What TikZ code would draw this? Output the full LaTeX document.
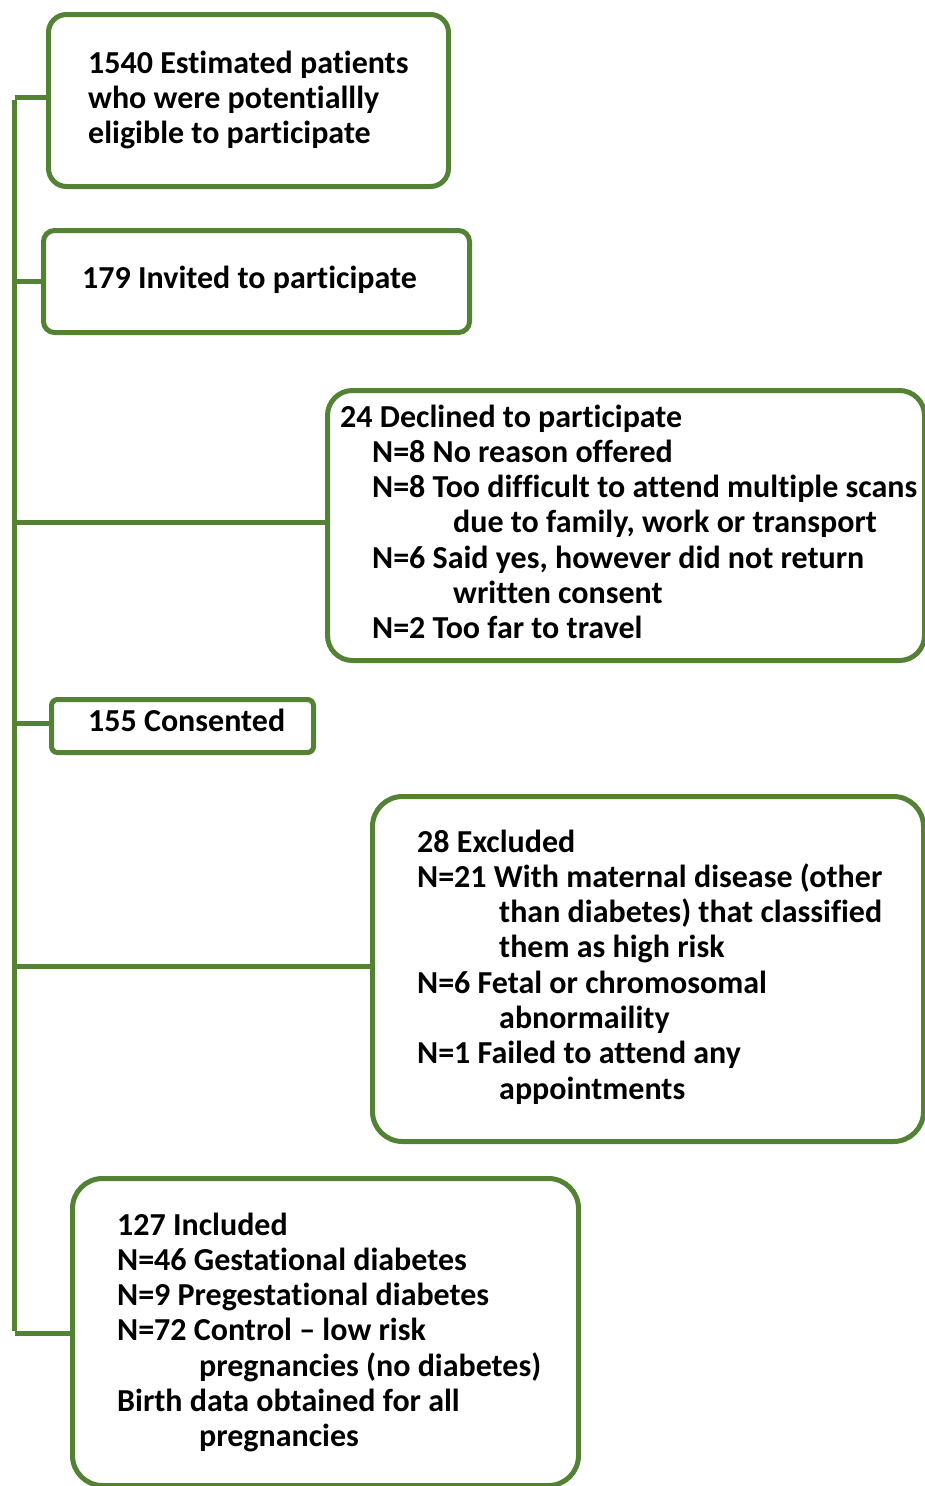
\documentclass[tikz,border=0pt]{standalone}
\usepackage{fontspec}
\setmainfont{Carlito}[Ligatures=NoCommon,Contextuals=NoAlternate]
\definecolor{boxgreen}{HTML}{548235}
\newcommand{\rowtext}[2][0pt]{\hbox{\hskip#1 #2}}
\begin{document}
\begin{tikzpicture}[x=1pt,y=-1pt,
  box/.style={draw=boxgreen, line width=5pt, fill=white, anchor=north west, inner sep=0pt},
  link/.style={draw=boxgreen, line width=5pt},
  label/.style={anchor=base west, inner sep=0pt, font=\fontsize{32}{35.3}\selectfont\bfseries}]
\useasboundingbox[fill=white] (0,0) rectangle (925,1486);

% boxes
\node[box, rounded corners=18pt, minimum width=400pt, minimum height=172pt] (b1) at (46,12) {};
\node[box, rounded corners=11pt, minimum width=426pt, minimum height=102pt] (b2) at (41,228) {};
\node[box, rounded corners=25pt, minimum width=597pt, minimum height=270pt] (b3) at (325,388) {};
\node[box, rounded corners=6pt, minimum width=262pt, minimum height=53pt] (b4) at (49,697) {};
\node[box, rounded corners=30pt, minimum width=551pt, minimum height=345pt] (b5) at (370,794) {};
\node[box, rounded corners=30pt, minimum width=506pt, minimum height=307pt] (b6) at (70,1176) {};

% texts
\node[label] (t1) at (88,73) {\vtop{%
  \rowtext{1540 Estimated patients}
  \rowtext{who were potentiallly}
  \rowtext{eligible to participate}}};
\node[label] (t2) at (82,288) {179 Invited to participate};
\node[label] (t3) at (340,427) {\vtop{%
  \rowtext{24 Declined to participate}
  \rowtext[32pt]{N=8 No reason offered}
  \rowtext[32pt]{N=8 Too difficult to attend multiple scans}
  \rowtext[113pt]{due to family, work or transport}
  \rowtext[32pt]{N=6 Said yes, however did not return}
  \rowtext[113pt]{written consent}
  \rowtext[32pt]{N=2 Too far to travel}}};
\node[label] (t4) at (88,731) {155 Consented};
\node[label] (t5) at (417,852) {\vtop{%
  \rowtext{28 Excluded}
  \rowtext{N=21 With maternal disease (other}
  \rowtext[82pt]{than diabetes) that classified}
  \rowtext[82pt]{them as high risk}
  \rowtext{N=6 Fetal or chromosomal}
  \rowtext[82pt]{abnormaility}
  \rowtext{N=1 Failed to attend any}
  \rowtext[82pt]{appointments}}};
\node[label] (t6) at (117,1235) {\vtop{%
  \rowtext{127 Included}
  \rowtext{N=46 Gestational diabetes}
  \rowtext{N=9 Pregestational diabetes}
  \rowtext{N=72 Control -- low risk}
  \rowtext[82pt]{pregnancies (no diabetes)}
  \rowtext{Birth data obtained for all}
  \rowtext[82pt]{pregnancies}}};

% trunk and branches
\coordinate (j1) at (14.5,97);
\coordinate (j2) at (14.5,281);
\coordinate (j3) at (14.5,522);
\coordinate (j4) at (14.5,723);
\coordinate (j5) at (14.5,966);
\coordinate (j6) at (14.5,1333);
\draw[link] ([yshift=-2.5pt]j1) -- ([yshift=2.5pt]j6);
\draw[link] (j1) -- (j1 -| b1.west);
\draw[link] (j2) -- (j2 -| b2.west);
\draw[link] (j3) -- (j3 -| b3.west);
\draw[link] (j4) -- (j4 -| b4.west);
\draw[link] (j5) -- (j5 -| b5.west);
\draw[link] (j6) -- (j6 -| b6.west);
\end{tikzpicture}
\end{document}
